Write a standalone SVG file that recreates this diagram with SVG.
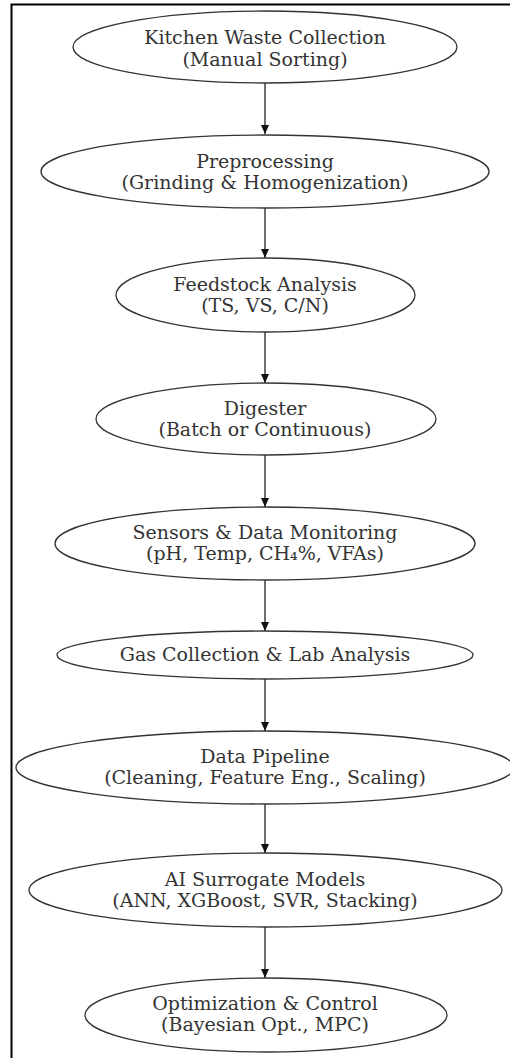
<svg xmlns="http://www.w3.org/2000/svg" width="510" height="1058" viewBox="0 0 510 1058">
<style>
.n ellipse{fill:#fff;stroke:#333;stroke-width:1.3}
.n text{font-family:"DejaVu Serif","Liberation Serif",serif;font-size:19px;fill:#333;text-anchor:middle}
.e line{stroke:#222;stroke-width:1.3}
</style>
<defs>
<marker id="ah" markerWidth="10" markerHeight="10" refX="9" refY="4" orient="auto" markerUnits="userSpaceOnUse">
<path d="M0,0 L9,4 L0,8 Z" fill="#111"/>
</marker>
</defs>
<rect x="0" y="0" width="510" height="1058" fill="#fff"/>
<path d="M11.5,1058 V4.5 H510" fill="none" stroke="#000" stroke-width="2"/>
<g class="e" id="edges">
<line x1="265" y1="83" x2="265" y2="134" marker-end="url(#ah)"/>
<line x1="265" y1="208" x2="265" y2="258" marker-end="url(#ah)"/>
<line x1="265" y1="332" x2="265" y2="383" marker-end="url(#ah)"/>
<line x1="265" y1="455" x2="265" y2="507" marker-end="url(#ah)"/>
<line x1="265" y1="580" x2="265" y2="631" marker-end="url(#ah)"/>
<line x1="265" y1="679" x2="265" y2="731" marker-end="url(#ah)"/>
<line x1="265" y1="804" x2="265" y2="853" marker-end="url(#ah)"/>
<line x1="265" y1="927" x2="265" y2="978" marker-end="url(#ah)"/>
</g>
<g class="n" id="n1"><ellipse cx="265" cy="47" rx="192" ry="36"/><text x="265" y="44">Kitchen Waste Collection</text><text x="265" y="66">(Manual Sorting)</text></g>
<g class="n" id="n2"><ellipse cx="265" cy="171.5" rx="224" ry="36.5"/><text x="265" y="168">Preprocessing</text><text x="265" y="189">(Grinding &amp; Homogenization)</text></g>
<g class="n" id="n3"><ellipse cx="265.5" cy="295" rx="149.5" ry="37"/><text x="265" y="291">Feedstock Analysis</text><text x="265" y="312">(TS, VS, C/N)</text></g>
<g class="n" id="n4"><ellipse cx="266" cy="419" rx="170" ry="36"/><text x="265" y="415">Digester</text><text x="265" y="436">(Batch or Continuous)</text></g>
<g class="n" id="n5"><ellipse cx="265" cy="543.5" rx="210" ry="36.5"/><text x="265" y="539">Sensors &amp; Data Monitoring</text><text x="265" y="560">(pH, Temp, CH₄%, VFAs)</text></g>
<g class="n" id="n6"><ellipse cx="265" cy="655" rx="208" ry="24"/><text x="265" y="661">Gas Collection &amp; Lab Analysis</text></g>
<g class="n" id="n7"><ellipse cx="265" cy="767.5" rx="249" ry="36.5"/><text x="265" y="763">Data Pipeline</text><text x="265" y="784">(Cleaning, Feature Eng., Scaling)</text></g>
<g class="n" id="n8"><ellipse cx="265.5" cy="890" rx="236.5" ry="37"/><text x="265" y="886">AI Surrogate Models</text><text x="265" y="907">(ANN, XGBoost, SVR, Stacking)</text></g>
<g class="n" id="n9"><ellipse cx="266" cy="1015" rx="181" ry="37"/><text x="265" y="1010">Optimization &amp; Control</text><text x="265" y="1031">(Bayesian Opt., MPC)</text></g>
</svg>
